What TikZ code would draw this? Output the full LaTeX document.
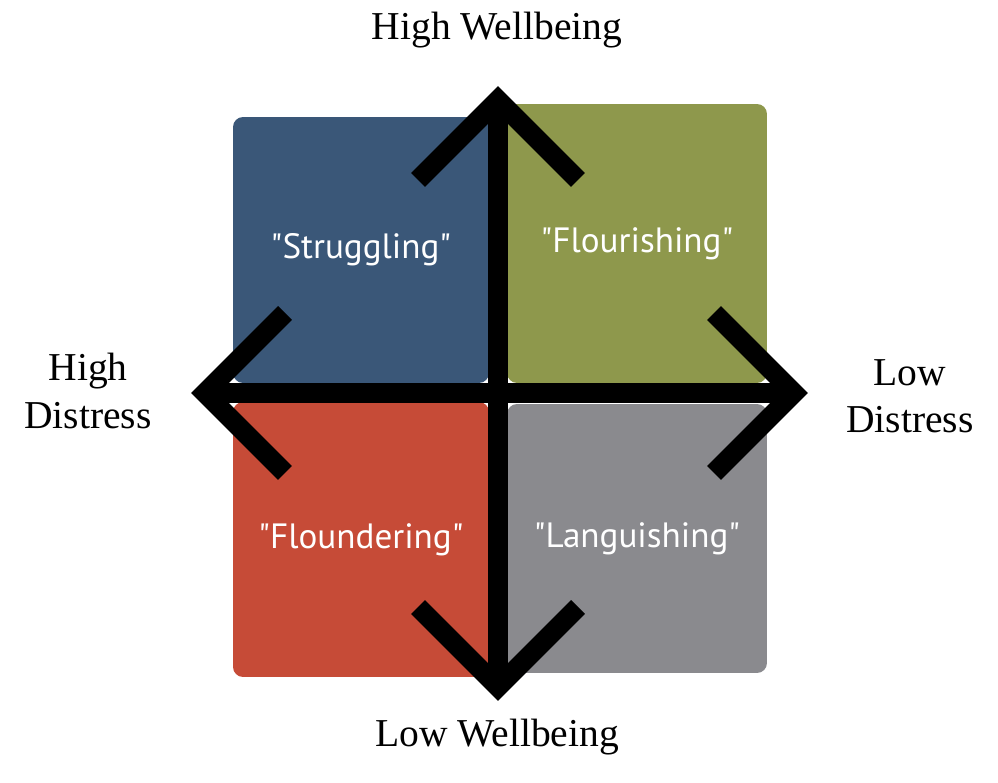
\documentclass[tikz,border=0pt]{standalone}
\usepackage{fontspec}
\setmainfont{Liberation Serif}
\newfontfamily\quadfont{PT Sans}
\definecolor{strugblue}{HTML}{3A5778}
\definecolor{flourgreen}{HTML}{8E984C}
\definecolor{floundred}{HTML}{C64B37}
\definecolor{languigray}{HTML}{8A8A8E}
\tikzset{
  quad/.style={rounded corners=0.2cm, inner sep=0pt, text=white,
    font=\quadfont\fontsize{20}{24}\selectfont},
  axis/.style={line width=0.39cm, line join=miter, line cap=butt},
  lbl/.style={align=center, font=\fontsize{22.5}{27}\selectfont}
}
\begin{document}
\begin{tikzpicture}[x=0.02cm, y=-0.02cm]

        \useasboundingbox (0,0) rectangle (998,783);

        \begin{scope}[every node/.style={quad}]
          \node[fill=strugblue,  minimum width=5.12cm, minimum height=5.32cm] (strug) at (361,250) {"Struggling"};
          \node[fill=flourgreen, minimum width=5.2cm, minimum height=5.58cm] (flour) at (637,243.5) {"Flourishing"};
          \node[fill=floundred,  minimum width=5.12cm, minimum height=5.5cm]  (flound) at (361,539.5) {"Floundering"};
          \node[fill=languigray, minimum width=5.2cm, minimum height=5.38cm] (langu) at (637,538.5) {"Languishing"};
        \end{scope}

        \coordinate (n) at (498,100);
        \coordinate (s) at (498,687);
        \coordinate (w) at (205,393);
        \coordinate (e) at (794,393);

        \draw[axis] (n) -- (s);
        \draw[axis] (w) -- (e);
        \draw[axis] (n) +(-80,80) -- (n) -- +(80,80);
        \draw[axis] (s) +(-80,-80) -- (s) -- +(80,-80);
        \draw[axis] (w) +(80,-80) -- (w) -- +(80,80);
        \draw[axis] (e) +(-80,-80) -- (e) -- +(-80,80);

        \begin{scope}[every node/.style={lbl}]
          \node (hiwell) at (497,30)  {High Wellbeing};
          \node (lowell) at (497,737) {Low Wellbeing};
          \node (hidist) at (88,391)  {High\\Distress};
          \node (lodist) at (910,396) {Low\\Distress};
        \end{scope}

      \end{tikzpicture}
\end{document}
